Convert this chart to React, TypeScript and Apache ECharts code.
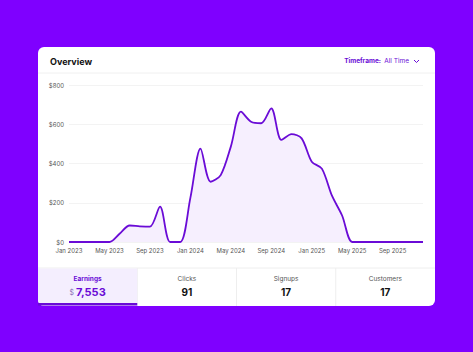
import React, { useEffect, useRef } from "react";
import * as echarts from "echarts";

const months = [
  "Jan 2023","Feb 2023","Mar 2023","Apr 2023","May 2023","Jun 2023","Jul 2023","Aug 2023","Sep 2023","Oct 2023","Nov 2023","Dec 2023",
  "Jan 2024","Feb 2024","Mar 2024","Apr 2024","May 2024","Jun 2024","Jul 2024","Aug 2024","Sep 2024","Oct 2024","Nov 2024","Dec 2024",
  "Jan 2025","Feb 2025","Mar 2025","Apr 2025","May 2025","Jun 2025","Jul 2025","Aug 2025","Sep 2025","Oct 2025","Nov 2025","Dec 2025",
];
const earnings = [
  0, 0, 0, 0, 0, 42, 84, 80, 78, 180, 0, 0,
  225, 476, 307, 341, 486, 664, 613, 605, 681, 520, 550, 528,
  409, 374, 236, 135, 0, 0, 0, 0, 0, 0, 0, 0,
];
const yTicks = [0, 200, 400, 600, 800];
const tabLabels = ["Earnings", "Clicks", "Signups", "Customers"];
const tabValues = ["7,553", "91", "17", "17"];

const PURPLE = "#6a0bd6";
const BG = "#7f00ff";

export default function App() {
  const ref = useRef<HTMLDivElement>(null);
  useEffect(() => {
    if (!ref.current) return;
    const chart = echarts.init(ref.current, undefined, { renderer: "svg" });
    const cardX = 38, cardY = 47, cardW = 397, cardH = 259;
    const tabTop = 268;
    const tabW = cardW / 4;
    const graphics: any[] = [
      { type: "rect", z: -10, shape: { x: cardX, y: cardY, width: cardW, height: cardH, r: 6 }, style: { fill: "#ffffff" } },
      { type: "line", z: -9, shape: { x1: cardX, y1: 73, x2: cardX + cardW, y2: 73 }, style: { stroke: "#f0f0f0", lineWidth: 1 } },
      { type: "text", style: { x: 50, y: 61, text: "Overview", fill: "#111", font: "bold 9px Inter", verticalAlign: "middle" } },
      {
        type: "text",
        style: {
          x: 409, y: 61, align: "right", verticalAlign: "middle",
          text: "{b|Timeframe:} {n|All Time}",
          rich: {
            b: { fill: PURPLE, font: "bold 6.5px Inter" },
            n: { fill: PURPLE, font: "6.5px Inter" },
          },
        },
      },
      { type: "polyline", shape: { points: [[414, 60], [416.5, 62.5], [419, 60]] }, style: { stroke: PURPLE, lineWidth: 1, fill: "none" } },
      { type: "line", z: -9, shape: { x1: cardX, y1: tabTop, x2: cardX + cardW, y2: tabTop }, style: { stroke: "#eeeeee", lineWidth: 1 } },
      { type: "rect", z: -8, shape: { x: cardX, y: tabTop + 0.5, width: tabW, height: cardY + cardH - tabTop - 0.5, r: [0, 0, 0, 6] }, style: { fill: "#f4eefe" } },
      { type: "rect", z: -7, shape: { x: cardX, y: 303, width: tabW, height: 2.5 }, style: { fill: PURPLE } },
    ];
    for (let i = 1; i < 4; i++) {
      const x = cardX + tabW * i;
      graphics.push({ type: "line", z: -9, shape: { x1: x, y1: tabTop, x2: x, y2: cardY + cardH }, style: { stroke: "#eeeeee", lineWidth: 1 } });
    }
    tabLabels.forEach((lab, i) => {
      const cx = cardX + tabW * (i + 0.5);
      graphics.push({
        type: "text",
        style: { x: cx, y: 278.5, text: lab, align: "center", verticalAlign: "middle", fill: i === 0 ? PURPLE : "#555", font: (i === 0 ? "bold " : "") + "6.5px Inter" },
      });
      if (i === 0) {
        graphics.push({
          type: "text",
          style: {
            x: cx, y: 292, align: "center", verticalAlign: "middle",
            text: "{s|$ }{v|" + tabValues[i] + "}",
            rich: {
              s: { fill: "#8a6fb8", font: "7px Inter" },
              v: { fill: PURPLE, font: "bold 11px Inter" },
            },
          },
        });
      } else {
        graphics.push({
          type: "text",
          style: { x: cx, y: 292, text: tabValues[i], align: "center", verticalAlign: "middle", fill: "#111", font: "bold 10px Inter" },
        });
      }
    });

    chart.setOption({
      animation: false,
      backgroundColor: BG,
      graphic: graphics,
      grid: { left: 69, right: 50, top: 85, bottom: 110, containLabel: false },
      xAxis: {
        type: "category",
        data: months,
        boundaryGap: false,
        axisLine: { show: false },
        axisTick: { show: false },
        axisLabel: { interval: 3, color: "#555", fontSize: 6, fontFamily: "Inter", margin: 5 },
        splitLine: { show: false },
      },
      yAxis: {
        type: "value",
        min: 0,
        max: 800,
        interval: 200,
        axisLine: { show: false },
        axisTick: { show: false },
        axisLabel: { color: "#555", fontSize: 6, fontFamily: "Inter", margin: 5, formatter: (v: number) => (yTicks.includes(v) ? "$" + v : "") },
        splitLine: { lineStyle: { color: "#f3f3f3", width: 1 } },
      },
      series: [
        {
          type: "line",
          data: earnings,
          smooth: 0.3,
          symbol: "none",
          lineStyle: { color: PURPLE, width: 1.8 },
          areaStyle: { color: "#f6effe", opacity: 1 },
        },
      ],
    });
    return () => chart.dispose();
  }, []);
  return <div ref={ref} style={{ position: "fixed", left: 0, top: 0, width: 473, height: 352 }} />;
}
